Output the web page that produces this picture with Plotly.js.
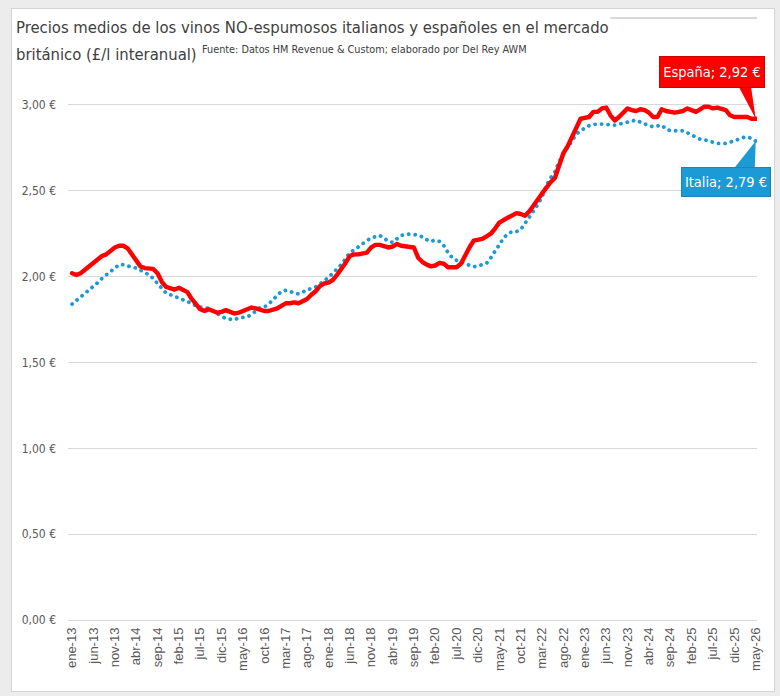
<!DOCTYPE html>
<html>
<head>
<meta charset="utf-8">
<script src="https://cdn.plot.ly/plotly-3.0.1.min.js"></script>
<style>
  html, body { margin:0; padding:0; background:#ececec; }
  #frame { position:absolute; left:11px; top:8px; width:764px; height:684px; box-sizing:border-box;
           border:1px solid #d4d4d4; background:#ffffff; }
  #chart { width:762px; height:682px; }
  .js-line { stroke-linecap: round; stroke-linejoin: round; }
</style>
</head>
<body>
<div id="frame"><div id="chart"></div></div>
<script>
// Month abbreviations and years for the category labels
const meses = ['ene','feb','mar','abr','may','jun','jul','ago','sep','oct','nov','dic'];
const anioInicio = 13, anioFin = 26, mesFin = 5; // ene-13 ... may-26

const fechas = [];
for (let a = anioInicio; a <= anioFin; a++) {
  for (let m = 0; m < 12; m++) {
    if (a === anioFin && m >= mesFin) break;
    fechas.push(meses[m] + '-' + a);
  }
}

// España, £/l interanual (monthly, ene-13 .. may-26)
const espana = [
  2.02, 2.01, 2.02, 2.04, 2.06, 2.08, 2.10, 2.12, 2.13, 2.15,
  2.17, 2.18, 2.18, 2.165, 2.13, 2.09, 2.06, 2.05, 2.05, 2.045,
  2.02, 1.97, 1.94, 1.93, 1.925, 1.935, 1.925, 1.91, 1.87, 1.84,
  1.81, 1.80, 1.81, 1.80, 1.79, 1.795, 1.805, 1.795, 1.785, 1.79,
  1.80, 1.81, 1.82, 1.815, 1.805, 1.80, 1.80, 1.805, 1.815, 1.83,
  1.845, 1.845, 1.85, 1.845, 1.855, 1.87, 1.895, 1.915, 1.945, 1.96,
  1.965, 1.98, 2.01, 2.04, 2.08, 2.12, 2.13, 2.13, 2.135, 2.14,
  2.17, 2.185, 2.185, 2.18, 2.17, 2.175, 2.19, 2.18, 2.175, 2.175,
  2.17, 2.11, 2.085, 2.07, 2.06, 2.065, 2.08, 2.075, 2.055, 2.055,
  2.055, 2.075, 2.13, 2.17, 2.21, 2.215, 2.22, 2.235, 2.25, 2.28,
  2.315, 2.33, 2.345, 2.36, 2.37, 2.365, 2.355, 2.38, 2.41, 2.45,
  2.485, 2.52, 2.55, 2.575, 2.64, 2.72, 2.76, 2.81, 2.87, 2.92,
  2.925, 2.93, 2.96, 2.96, 2.98, 2.985, 2.94, 2.91, 2.93, 2.955,
  2.98, 2.97, 2.965, 2.975, 2.97, 2.955, 2.93, 2.93, 2.975, 2.965,
  2.96, 2.955, 2.96, 2.965, 2.98, 2.97, 2.96, 2.975, 2.99, 2.99,
  2.98, 2.985, 2.98, 2.97, 2.94, 2.93, 2.93, 2.93, 2.93, 2.92,
  2.92
];

// Italia, £/l interanual (monthly, ene-13 .. may-26)
const italia = [
  1.84, 1.86, 1.88, 1.90, 1.92, 1.94, 1.965, 1.99, 2.01, 2.03,
  2.055, 2.07, 2.07, 2.06, 2.055, 2.05, 2.04, 2.025, 2.01, 1.99,
  1.96, 1.93, 1.905, 1.895, 1.885, 1.875, 1.87, 1.86, 1.845, 1.83,
  1.822, 1.82, 1.815, 1.80, 1.785, 1.77, 1.755, 1.752, 1.75, 1.76,
  1.765, 1.765, 1.78, 1.80, 1.82, 1.823, 1.84, 1.865, 1.89, 1.915,
  1.92, 1.915, 1.903, 1.90, 1.91, 1.925, 1.93, 1.94, 1.957, 1.975,
  1.995, 2.02, 2.045, 2.07, 2.105, 2.14, 2.155, 2.175, 2.195, 2.21,
  2.225, 2.235, 2.24, 2.225, 2.205, 2.20, 2.22, 2.24, 2.245, 2.248,
  2.245, 2.242, 2.232, 2.215, 2.205, 2.213, 2.205, 2.18, 2.14, 2.11,
  2.095, 2.088, 2.075, 2.065, 2.058, 2.062, 2.068, 2.078, 2.11, 2.15,
  2.19, 2.225, 2.25, 2.262, 2.262, 2.275, 2.31, 2.345, 2.38, 2.42,
  2.465, 2.53, 2.575, 2.61, 2.67, 2.715, 2.755, 2.79, 2.83, 2.85,
  2.865, 2.88, 2.886, 2.889, 2.889, 2.887, 2.883, 2.883, 2.888, 2.893,
  2.90, 2.908, 2.912, 2.90, 2.888, 2.88, 2.873, 2.876, 2.883, 2.86,
  2.85, 2.85, 2.852, 2.85, 2.838, 2.825, 2.81, 2.80, 2.797, 2.79,
  2.78, 2.776, 2.776, 2.776, 2.783, 2.79, 2.80, 2.81, 2.815, 2.805,
  2.79
];

const tickPaso = 5;
const yTicks = [0, 0.5, 1.0, 1.5, 2.0, 2.5, 3.0];

// ---- build ----
const idx = fechas.map((_, i) => i);
const tickvals = idx.filter(i => i % tickPaso === 0);
const ticktext = tickvals.map(i => fechas[i]);
const last = fechas.length - 1;
const fmt = v => v.toFixed(2).replace('.', ',') + ' €';

const cond = '"DejaVu Sans Condensed", "Liberation Sans Narrow", "Liberation Sans", sans-serif';
const ROJO = '#FF0000', AZUL = '#1C9AD6';
const TXT = '#404040';

const traces = [
  { x: idx, y: italia, type: 'scatter', mode: 'lines', name: 'Italia',
    line: { color: AZUL, width: 3.8, dash: '0.1px,6.4px' }, hoverinfo: 'skip' },
  { x: idx, y: espana, type: 'scatter', mode: 'lines', name: 'España',
    line: { color: ROJO, width: 4.4 }, hoverinfo: 'skip' }
];

const layout = {
  width: 762, height: 682,
  margin: { l: 56, r: 17, t: 45, b: 71 },
  paper_bgcolor: '#ffffff', plot_bgcolor: '#ffffff',
  showlegend: false,
  xaxis: {
    range: [-0.95, 160.3], tickvals: tickvals, ticktext: ticktext, tickangle: -90,
    showgrid: false, zeroline: false, showline: false, ticks: '',
    tickfont: { family: '"Liberation Sans", Arial, sans-serif', size: 13, color: '#595959' },
    ticklabelstandoff: 4
  },
  yaxis: {
    range: [0, 3.297], tickvals: yTicks, ticktext: yTicks.map(fmt),
    gridcolor: '#d9d9d9', gridwidth: 1, zeroline: true, zerolinecolor: '#d9d9d9', zerolinewidth: 1,
    showline: false, ticks: '',
    tickfont: { family: cond, size: 12, color: '#595959' },
    ticklabelstandoff: 11
  },
  shapes: [
    { type: 'line', xref: 'paper', yref: 'paper', x0: 0.787, x1: 1.0, y0: 1.0636, y1: 1.0636,
      line: { color: '#d9d9d9', width: 2 } },
    { type: 'path', xref: 'x', yref: 'y', xsizemode: 'pixel', ysizemode: 'pixel',
      xanchor: last, yanchor: espana[last], path: 'M0,0 L-18,34 L-5,34 Z',
      fillcolor: ROJO, line: { width: 0 } },
    { type: 'path', xref: 'x', yref: 'y', xsizemode: 'pixel', ysizemode: 'pixel',
      xanchor: last, yanchor: italia[last], path: 'M0,0 L-23,-29 L-1,-29 Z',
      fillcolor: AZUL, line: { width: 0 } }
  ],
  annotations: [
    { xref: 'paper', yref: 'paper', x: -0.078, y: 1.0473, xanchor: 'left', yanchor: 'middle',
      align: 'left', showarrow: false,
      text: 'Precios medios de los vinos NO-espumosos italianos y españoles en el mercado',
      font: { family: cond, size: 16.5, color: TXT } },
    { xref: 'paper', yref: 'paper', x: -0.078, y: 0.9997, xanchor: 'left', yanchor: 'middle',
      align: 'left', showarrow: false,
      text: 'británico (£/l interanual)',
      font: { family: cond, size: 16.5, color: TXT } },
    { xref: 'paper', yref: 'paper', x: 0.1916, y: 1.0083, xanchor: 'left', yanchor: 'middle',
      align: 'left', showarrow: false,
      text: 'Fuente: Datos HM Revenue &amp; Custom; elaborado por Del Rey AWM',
      font: { family: cond, size: 10.8, color: TXT } },
    { x: last, y: espana[last], xref: 'x', yref: 'y', text: 'España; ' + fmt(espana[last]),
      showarrow: true, arrowcolor: 'rgba(0,0,0,0)', arrowwidth: 0.1, ax: -44, ay: -47,
      bgcolor: ROJO, bordercolor: '#d00000', borderwidth: 1, borderpad: 1,
      width: 102, height: 28, font: { family: cond, size: 14.5, color: '#ffffff' } },
    { x: last, y: italia[last], xref: 'x', yref: 'y', text: 'Italia; ' + fmt(italia[last]),
      showarrow: true, arrowcolor: 'rgba(0,0,0,0)', arrowwidth: 0.1, ax: -30, ay: 41,
      bgcolor: AZUL, bordercolor: '#1784bb', borderwidth: 1, borderpad: 1,
      width: 86, height: 26, font: { family: cond, size: 14.5, color: '#ffffff' } }
  ]
};

Plotly.newPlot('chart', traces, layout, { staticPlot: true, displayModeBar: false });
</script>
</body>
</html>
